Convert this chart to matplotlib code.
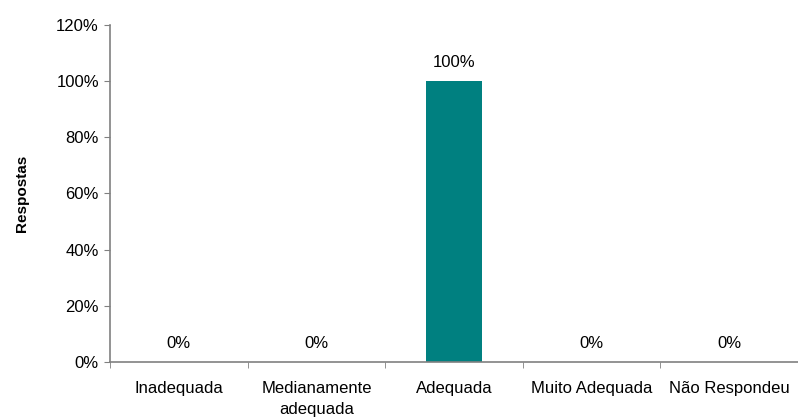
import matplotlib
matplotlib.use("Agg")
import matplotlib.pyplot as plt
from matplotlib.ticker import FixedLocator, PercentFormatter

categories = ["Inadequada", "Medianamente\nadequada", "Adequada", "Muito Adequada", "Não Respondeu"]
values = [0, 0, 100, 0, 0]
yticks = [0, 20, 40, 60, 80, 100, 120]

plt.rcParams['font.family'] = ['Liberation Sans', 'DejaVu Sans']
fig = plt.figure(figsize=(7.98, 4.19), dpi=100)
ax = fig.add_axes([110/798, 1 - 362/419, (798 - 110)/798, (362 - 25)/419])

x = list(range(len(categories)))
bars = ax.bar(x, values, width=0.41, color="#008080")
for xi, v in zip(x, values):
    ax.annotate(f"{v}%", (xi, v), xytext=(0, 8), textcoords="offset points",
                ha="center", va="bottom", fontsize=12, color="#000000")

ax.set_xlim(-0.5, len(categories) - 0.5)
ax.set_ylim(0, 120)
ax.set_yticks(yticks)
ax.yaxis.set_major_formatter(PercentFormatter(decimals=0))
ax.set_xticks(x)
ax.set_xticklabels(categories, va="top", ha="center", linespacing=1.55)
ax.xaxis.set_minor_locator(FixedLocator([i + 0.5 for i in range(-1, len(categories))]))

for s in ["top", "right"]:
    ax.spines[s].set_visible(False)
for s in ["left", "bottom"]:
    ax.spines[s].set_color("#808080")
    ax.spines[s].set_linewidth(1.2)

ax.tick_params(axis="y", direction="out", length=4, color="#808080", labelsize=12, pad=4)
ax.tick_params(axis="x", which="major", length=0, labelsize=12, pad=13.5)
ax.tick_params(axis="x", which="minor", direction="out", length=4, color="#808080")

ax.set_ylabel("Respostas", fontsize=11, fontweight="bold")
ax.yaxis.set_label_coords(-81/688, 0.5)

fig.savefig("out.png", dpi=100)
